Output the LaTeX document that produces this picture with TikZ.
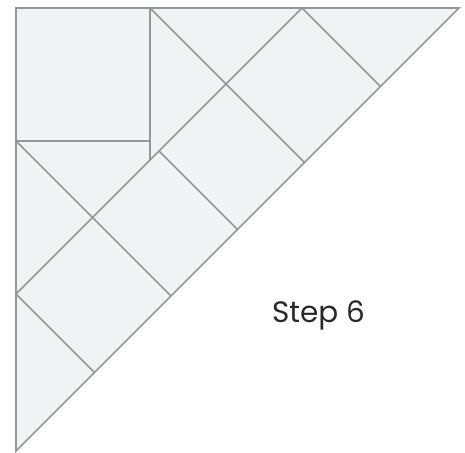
\documentclass[tikz,border=0pt]{standalone}
\usepackage{fontspec}
\usepackage{xcolor}
\setmainfont{Poppins}
\definecolor{foldgray}{RGB}{150,150,150}
\definecolor{paperfill}{RGB}{242,243,245}
\definecolor{labelgray}{RGB}{40,40,40}

\begin{document}
\begin{tikzpicture}[x=1pt,y=-1pt,
        crease/.style={draw=foldgray,line width=1.7pt},
        paper/.style={crease,fill=paperfill},
        steplabel/.style={font=\fontsize{29.5}{34}\selectfont,text=labelgray,inner sep=0pt,anchor=base}]
        \useasboundingbox (-16,-8) rectangle (449,444);
        % outer triangle
        \coordinate (tl) at (0,0);
        \coordinate (tr) at (443,0);
        \coordinate (bl) at (0,443);
        \filldraw[paper] (tl) -- (tr) -- (bl) -- cycle;
        % square in the corner
        \coordinate (sqtop) at (134,0);
        \coordinate (sqleft) at (0,133);
        \coordinate (sqcorner) at (134,133);
        \coordinate (sqfoot) at (134,152);
        \draw[crease] (sqtop) -- (sqfoot);
        \draw[crease] (sqleft) -- (sqcorner);
        % fold parallel to the long side
        \coordinate (mtop) at (286,0);
        \coordinate (mleft) at (0,286);
        \coordinate (mmid) at (143,143);
        \draw[crease] (mtop) -- (mleft);
        % folds across the long side
        \coordinate (h1) at (364.5,78.5);
        \coordinate (h2) at (288.5,154.5);
        \coordinate (h3) at (221.5,221.5);
        \coordinate (h4) at (155,288);
        \coordinate (h5) at (78.5,364.5);
        \draw[crease] (mtop) -- (h1);
        \draw[crease] (sqtop) -- (h2);
        \draw[crease] (mmid) -- (h3);
        \draw[crease] (sqleft) -- (h4);
        \draw[crease] (mleft) -- (h5);
        \node[steplabel] (lbl) at (302.5,314) {Step 6};
      \end{tikzpicture}
\end{document}
